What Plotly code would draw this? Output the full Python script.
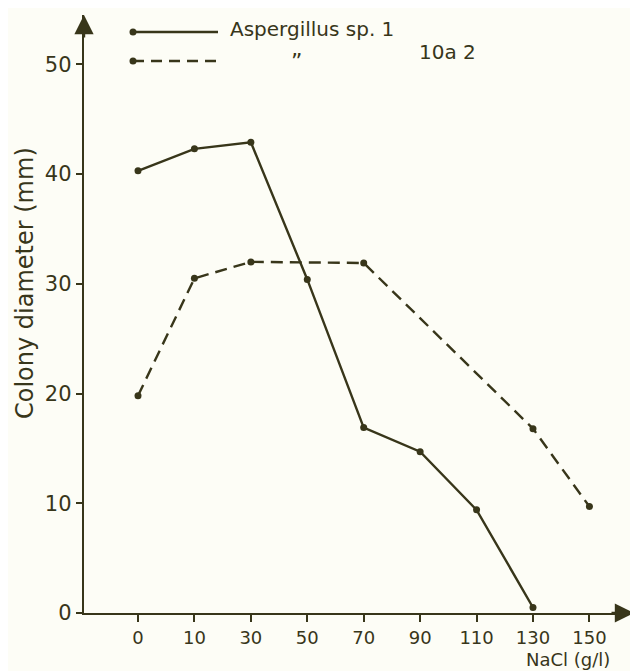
import plotly.graph_objects as go

# ---- data ----
nacl_labels = ["0", "10", "30", "50", "70", "90", "110", "130", "150"]

asp1_x = ["0", "10", "30", "50", "70", "90", "110", "130"]
asp1_y = [40.3, 42.3, 42.9, 30.4, 16.9, 14.7, 9.4, 0.5]

asp2_x = ["0", "10", "30", "70", "130", "150"]
asp2_y = [19.8, 30.5, 32.0, 31.9, 16.8, 9.7]

y_ticks = [0, 10, 20, 30, 40, 50]

# ---- style ----
INK = "#38361a"
BG = "#fdfdf6"
FONT = "DejaVu Sans"

W, H = 638, 671
OFF = 8  # page body margin offsets the figure in the screenshot
# target plot box in screenshot pixels: x 84..634, y 15..613
L, T = 84 - OFF, 15 - OFF
R = W - (634 - OFF)
B = H - (613 - OFF)
PW, PH = W - L - R, H - T - B


def idx(labels):
    return [nacl_labels.index(v) for v in labels]


def px(x):
    return (x - OFF - L) / PW


def py(y):
    return (H - B - (y - OFF)) / PH


fig = go.Figure()

fig.add_trace(go.Scatter(
    x=idx(asp1_x), y=asp1_y, mode="lines+markers",
    line=dict(color=INK, width=2.4),
    marker=dict(color=INK, size=7),
    showlegend=False, cliponaxis=False,
))
fig.add_trace(go.Scatter(
    x=idx(asp2_x), y=asp2_y, mode="lines+markers",
    line=dict(color=INK, width=2.4, dash="12px,7px"),
    marker=dict(color=INK, size=7),
    showlegend=False, cliponaxis=False,
))

shapes = []
annotations = []

# legend: solid and dashed sample lines with dots
for yy, dash in [(32, "solid"), (61, "11px,7px")]:
    shapes.append(dict(type="line", xref="paper", yref="paper",
                       x0=px(133), x1=px(218), y0=py(yy), y1=py(yy),
                       line=dict(color=INK, width=2.4, dash=dash)))
    shapes.append(dict(type="circle", xref="paper", yref="paper",
                       x0=px(129.5), x1=px(136.5), y0=py(yy + 3.5), y1=py(yy - 3.5),
                       fillcolor=INK, line=dict(color=INK, width=0)))

annotations.append(dict(text="Aspergillus sp. 1", xref="paper", yref="paper",
                        x=px(228), y=py(29), xanchor="left", yanchor="middle",
                        showarrow=False, font=dict(family=FONT, size=20, color=INK)))
annotations.append(dict(text="\u201d", xref="paper", yref="paper",
                        x=px(296), y=py(62), xanchor="center", yanchor="middle",
                        showarrow=False, font=dict(family=FONT, size=22, color=INK)))
annotations.append(dict(text="10a 2", xref="paper", yref="paper",
                        x=px(417), y=py(52), xanchor="left", yanchor="middle",
                        showarrow=False, font=dict(family=FONT, size=20, color=INK)))

# axis titles
annotations.append(dict(text="Colony diameter (mm)", xref="paper", yref="paper",
                        x=px(25), y=py(283), textangle=-90,
                        xanchor="center", yanchor="middle",
                        showarrow=False, font=dict(family=FONT, size=24, color=INK)))
annotations.append(dict(text="NaCl (g/l)", xref="paper", yref="paper",
                        x=px(524), y=py(659), xanchor="left", yanchor="middle",
                        showarrow=False, font=dict(family=FONT, size=18, color=INK)))

# axis arrows
annotations.append(dict(text="", xref="paper", yref="paper", x=0, y=1,
                        ax=0, ay=24, showarrow=True, arrowhead=2, arrowsize=1.6,
                        arrowwidth=2.4, arrowcolor=INK))
annotations.append(dict(text="", xref="paper", yref="paper", x=1, y=0,
                        ax=-24, ay=0, showarrow=True, arrowhead=2, arrowsize=1.6,
                        arrowwidth=2.4, arrowcolor=INK))

fig.update_layout(
    width=W, height=H,
    margin=dict(l=L, r=R, t=T, b=B),
    paper_bgcolor=BG, plot_bgcolor=BG,
    shapes=shapes, annotations=annotations,
    font=dict(family=FONT, color=INK),
)

fig.update_xaxes(
    range=[-0.957, 8.79],
    tickvals=list(range(len(nacl_labels))), ticktext=nacl_labels,
    ticks="outside", ticklen=7, tickwidth=2, tickcolor=INK,
    showline=True, linecolor=INK, linewidth=2.4,
    showgrid=False, zeroline=False,
    tickfont=dict(family=FONT, size=18, color=INK),
)
fig.update_yaxes(
    range=[0, 54.5],
    tickvals=y_ticks,
    ticks="outside", ticklen=6, tickwidth=2, tickcolor=INK,
    showline=True, linecolor=INK, linewidth=2.4,
    showgrid=False, zeroline=False,
    tickfont=dict(family=FONT, size=21, color=INK),
)

fig.write_html("out.html")
